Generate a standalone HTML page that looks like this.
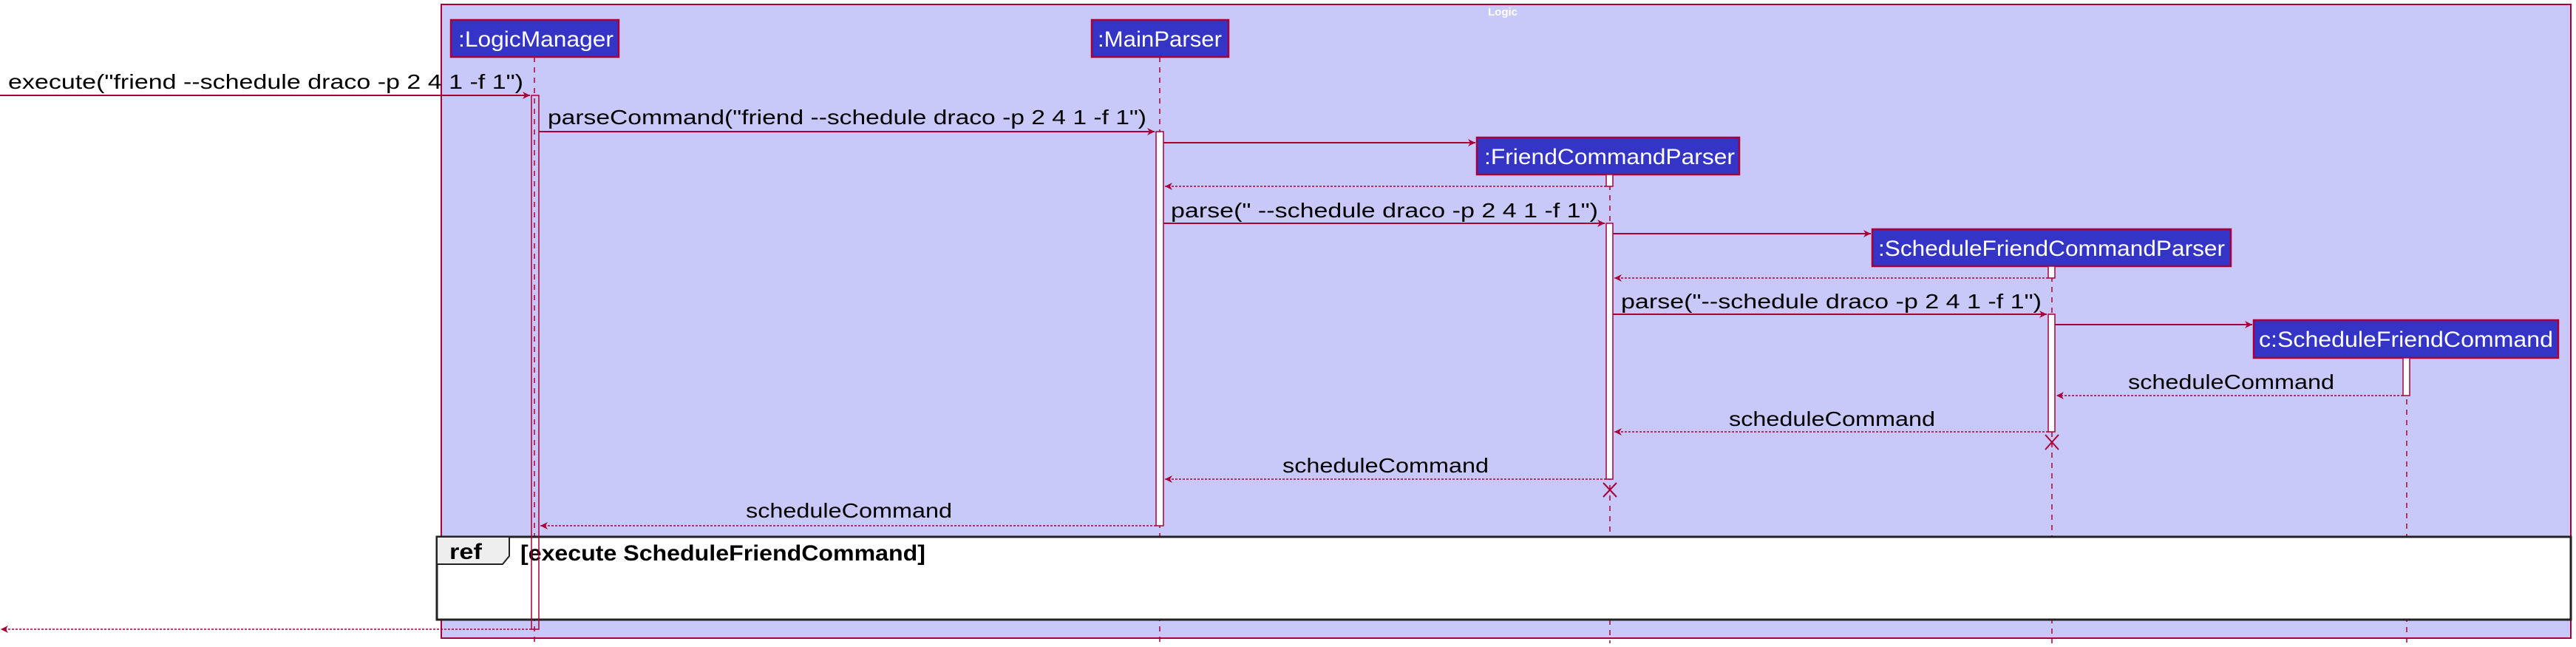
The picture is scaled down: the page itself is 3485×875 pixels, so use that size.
<!DOCTYPE html>
<html><head><meta charset="utf-8"><style>html,body{margin:0;padding:0;background:#fff}svg{display:block}</style></head>
<body>
<svg width="3485" height="875" viewBox="0 0 3485 875" xmlns="http://www.w3.org/2000/svg" font-family="Liberation Sans, DejaVu Sans, sans-serif">
<rect x="597" y="6" width="2881" height="857" fill="#C9C9F9" stroke="#A80036" stroke-width="2"/>
<text x="2033" y="21" fill="#fff" font-size="15" font-weight="bold" text-anchor="middle">Logic</text>

<g stroke="#A80036" stroke-width="1.5" stroke-dasharray="7,7" fill="none">
<line x1="723" y1="77" x2="723" y2="870"/>
<line x1="1569" y1="77" x2="1569" y2="870"/>
<line x1="2178" y1="236" x2="2178" y2="870"/>
<line x1="2776" y1="360" x2="2776" y2="870"/>
<line x1="3256" y1="484" x2="3256" y2="870"/>
</g>

<g fill="#3434C6" stroke="#A80036" stroke-width="2.5">
<rect x="610" y="27" width="227" height="50"/>
<rect x="1477" y="27" width="185" height="50"/>
<rect x="1998" y="186" width="355" height="50"/>
<rect x="2533" y="310" width="485" height="50"/>
<rect x="3049" y="433" width="412" height="51"/>
</g>
<g fill="#fff" font-size="30">
<text x="620" y="63" textLength="210" lengthAdjust="spacingAndGlyphs">:LogicManager</text>
<text x="1485" y="63" textLength="168" lengthAdjust="spacingAndGlyphs">:MainParser</text>
<text x="2008" y="222" textLength="339" lengthAdjust="spacingAndGlyphs">:FriendCommandParser</text>
<text x="2541" y="346" textLength="469" lengthAdjust="spacingAndGlyphs">:ScheduleFriendCommandParser</text>
<text x="3056" y="469" textLength="398" lengthAdjust="spacingAndGlyphs">c:ScheduleFriendCommand</text>
</g>

<g fill="#fff" stroke="#A80036" stroke-width="1.5">
<rect x="1564" y="178" width="10" height="533"/>
<rect x="2173" y="236" width="9" height="16"/>
<rect x="2173" y="302" width="9" height="346"/>
<rect x="2771" y="360" width="9" height="16"/>
<rect x="2771" y="425" width="9" height="159"/>
<rect x="3251" y="484" width="9" height="51"/>
</g>

<rect x="591" y="726" width="2887" height="112" fill="#fff" stroke="#222" stroke-width="3"/>
<path d="M591 726 L689 726 L689 752 L680 763 L591 763 Z" fill="#EEEEEE" stroke="#222" stroke-width="2"/>
<text x="608" y="756" font-size="30" font-weight="bold" fill="#000" textLength="44" lengthAdjust="spacingAndGlyphs">ref</text>
<text x="704" y="758" font-size="30" font-weight="bold" fill="#000" textLength="548" lengthAdjust="spacingAndGlyphs">[execute ScheduleFriendCommand]</text>

<rect x="719" y="129" width="10" height="722" fill="none" stroke="#A80036" stroke-width="1.5"/>

<g stroke="#A80036" stroke-width="2">
<line x1="0" y1="129" x2="717" y2="129"/>
<line x1="729" y1="178" x2="1562" y2="178"/>
<line x1="1574" y1="193" x2="1996" y2="193"/>
<line x1="1574" y1="302" x2="2171" y2="302"/>
<line x1="2182" y1="316" x2="2531" y2="316"/>
<line x1="2182" y1="425" x2="2769" y2="425"/>
<line x1="2780" y1="439" x2="3047" y2="439"/>
</g>
<g stroke="#A80036" stroke-width="1.5" stroke-dasharray="3,2">
<line x1="2173" y1="252" x2="1576" y2="252"/>
<line x1="2771" y1="376" x2="2184" y2="376"/>
<line x1="3251" y1="535" x2="2782" y2="535"/>
<line x1="2771" y1="584" x2="2184" y2="584"/>
<line x1="2173" y1="648" x2="1576" y2="648"/>
<line x1="1564" y1="711" x2="731" y2="711"/>
<line x1="719" y1="851" x2="2" y2="851"/>
</g>
<g fill="#A80036">
<path d="M717 129 l-10 -5 l3 5 l-3 5 Z"/>
<path d="M1562 178 l-10 -5 l3 5 l-3 5 Z"/>
<path d="M1996 193 l-10 -5 l3 5 l-3 5 Z"/>
<path d="M2171 302 l-10 -5 l3 5 l-3 5 Z"/>
<path d="M2531 316 l-10 -5 l3 5 l-3 5 Z"/>
<path d="M2769 425 l-10 -5 l3 5 l-3 5 Z"/>
<path d="M3047 439 l-10 -5 l3 5 l-3 5 Z"/>
<path d="M1576 252 l10 -5 l-3 5 l3 5 Z"/>
<path d="M2184 376 l10 -5 l-3 5 l3 5 Z"/>
<path d="M2782 535 l10 -5 l-3 5 l3 5 Z"/>
<path d="M2184 584 l10 -5 l-3 5 l3 5 Z"/>
<path d="M1576 648 l10 -5 l-3 5 l3 5 Z"/>
<path d="M731 711 l10 -5 l-3 5 l3 5 Z"/>
<path d="M1 851 l10 -5 l-3 5 l3 5 Z"/>
</g>
<g stroke="#A80036" stroke-width="2">
<line x1="2767" y1="588" x2="2785" y2="608"/><line x1="2785" y1="588" x2="2767" y2="608"/>
<line x1="2169" y1="653" x2="2187" y2="672"/><line x1="2187" y1="653" x2="2169" y2="672"/>
</g>

<g fill="#000" font-size="28">
<text x="11" y="120" textLength="697" lengthAdjust="spacingAndGlyphs">execute("friend --schedule draco -p 2 4 1 -f 1")</text>
<text x="741" y="168" textLength="810" lengthAdjust="spacingAndGlyphs">parseCommand("friend --schedule draco -p 2 4 1 -f 1")</text>
<text x="1584" y="294" textLength="578" lengthAdjust="spacingAndGlyphs">parse(" --schedule draco -p 2 4 1 -f 1")</text>
<text x="2193" y="417" textLength="569" lengthAdjust="spacingAndGlyphs">parse("--schedule draco -p 2 4 1 -f 1")</text>
<text x="2879" y="526" textLength="279" lengthAdjust="spacingAndGlyphs">scheduleCommand</text>
<text x="2339" y="576" textLength="279" lengthAdjust="spacingAndGlyphs">scheduleCommand</text>
<text x="1735" y="639" textLength="279" lengthAdjust="spacingAndGlyphs">scheduleCommand</text>
<text x="1009" y="700" textLength="279" lengthAdjust="spacingAndGlyphs">scheduleCommand</text>
</g>
</svg>
</body></html>
